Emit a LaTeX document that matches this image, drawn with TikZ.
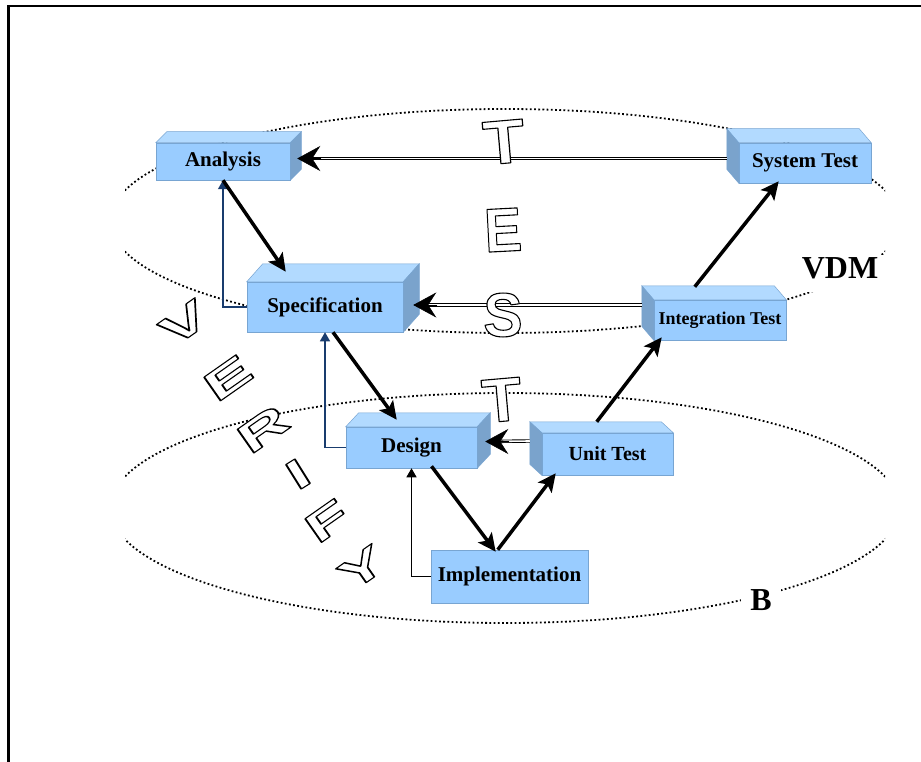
\documentclass[tikz,border=0pt]{standalone}
\usepackage{fontspec}
\setmainfont{Liberation Serif}
\newfontfamily\lsans{Liberation Sans}
\usetikzlibrary{arrows.meta,calc}

\definecolor{bxfront}{RGB}{153,204,255}
\definecolor{bxtop}{RGB}{178,218,255}
\definecolor{bxside}{RGB}{122,163,204}
\definecolor{bxedge}{RGB}{120,165,210}
\definecolor{navyln}{RGB}{25,60,110}

% outlined letter: white fill, black stroke (PDF text render mode 2)
\newcommand\outl[1]{\special{pdf:literal direct 1 g 0 G 2 Tr 1.1 w 1 j}#1\special{pdf:literal direct 0 Tr 0 g 0 G}}

\tikzset{
  boxface/.style={fill=bxfront, draw=bxedge, line width=0.5pt, inner sep=0pt,
    font=\fontsize{21}{24}\selectfont\bfseries},
  topface/.style={fill=bxtop, draw=bxedge, line width=0.5pt},
  sideface/.style={fill=bxside, draw=bxedge, line width=0.5pt},
  ell/.style={line width=1.8pt, dash pattern=on 1.8pt off 2.4pt},
  flowarrow/.style={line width=3.5pt, -{Stealth[length=18pt,width=17pt,inset=4pt]}},
  dblline/.style={double=white, draw=black, line width=0.9pt, double distance=1.6pt, shorten >=14pt},
  dblhead/.style={line width=0.5pt, -{Stealth[length=23pt,width=25pt,inset=8pt]}},
  fbarrow/.style={line width=1.3pt, -{Triangle[length=9pt,width=10pt]}},
  testletter/.style={inner sep=0pt, font=\lsans\bfseries\fontsize{62}{62}\selectfont},
  verletter/.style={inner sep=0pt, font=\lsans\bfseries\fontsize{42}{42}\selectfont},
  biglabel/.style={font=\fontsize{32}{34}\selectfont\bfseries, inner sep=0pt}
}

\newcommand\cubeR[3]{%
  \filldraw[topface] (#1.north west) -- ++(#2,-#3) -- ($(#1.north east)+(#2,-#3)$) -- (#1.north east) -- cycle;
  \filldraw[sideface] (#1.north east) -- ++(#2,-#3) -- ($(#1.south east)+(#2,-#3)$) -- (#1.south east) -- cycle;}
\newcommand\cubeL[3]{%
  \filldraw[topface] (#1.north east) -- ++(-#2,-#3) -- ($(#1.north west)+(-#2,-#3)$) -- (#1.north west) -- cycle;
  \filldraw[sideface] (#1.north west) -- ++(-#2,-#3) -- ($(#1.south west)+(-#2,-#3)$) -- (#1.south west) -- cycle;}

\begin{document}
\begin{tikzpicture}[x=1pt,y=-1pt]
\useasboundingbox (0,0) rectangle (921,762);
\fill[white] (0,0) rectangle (921,762);

% frame
\draw[line width=2.5pt] (8.5,762) -- (8.5,6) -- (921,6);

% ellipses
\begin{scope}
  \clip (125,0) rectangle (885,762);
  \draw[ell] (505,221) ellipse [x radius=395, y radius=112];
  \draw[ell] (505,508) ellipse [x radius=395, y radius=115];
\end{scope}

% boxes
\node[boxface, minimum width=134pt, minimum height=37pt] (ana) at (223,161.5) {Analysis};
\cubeR{ana}{11}{11}
\node[boxface, minimum width=156pt, minimum height=50pt] (spec) at (325,307) {Specification};
\cubeR{spec}{16}{18}
\node[boxface, minimum width=131pt, minimum height=41pt] (des) at (411.5,447.5) {Design};
\cubeR{des}{13}{14}
\node[boxface, minimum width=131pt, minimum height=42pt, font=\fontsize{20}{24}\selectfont\bfseries] (unit) at (607.5,454) {Unit Test};
\cubeL{unit}{12}{11}
\node[boxface, minimum width=157pt, minimum height=53pt] (impl) at (509.5,576.5) {Implementation};
\node[boxface, minimum width=132pt, minimum height=40pt] (sys) at (805,163) {System Test};
\cubeL{sys}{12}{14}
\node[boxface, minimum width=132pt, minimum height=40pt, font=\fontsize{18}{22}\selectfont\bfseries] (integ) at (720,320) {Integration Test};
\cubeL{integ}{12}{14}

% feedback arrows
\draw[fbarrow, navyln] (spec.west) -| (ana.south);
\draw[fbarrow, navyln] (des.west) -| (spec.south);
\draw[fbarrow, black] (impl.west) -| (des.south);

% double (test) arrows
\coordinate (t1) at ([shift={(7,-3)}]ana.east);
\coordinate (t2) at ([shift={(10,-2)}]spec.east);
\coordinate (t3) at ([shift={(8,-6)}]des.east);
\draw[dblline] ([shift={(-12,-4.5)}]sys.west) -- (t1);
\draw[dblhead] ([shift={(24,0)}]t1) -- (t1);
\draw[dblline] ([shift={(-12,-15)}]integ.west) -- (t2);
\draw[dblhead] ([shift={(24,0)}]t2) -- (t2);
\draw[dblline] ([shift={(-12,-13)}]unit.west) -- (t3);
\draw[dblhead] ([shift={(24,0)}]t3) -- (t3);

% main flow
\draw[flowarrow] (ana.south) -- ([shift={(39,-10)}]spec.north west);
\draw[flowarrow] ([shift={(8,0)}]spec.south) -- ([shift={(51,-7)}]des.north west);
\draw[flowarrow] ([shift={(20,-2)}]des.south) -- ([shift={(65,2)}]impl.north west);
\draw[flowarrow] ([shift={(67,0)}]impl.north west) -- ([shift={(14,-2)}]unit.south west);
\draw[flowarrow] ([shift={(55,-11)}]unit.north west) -- ([shift={(8,-3)}]integ.south west);
\draw[flowarrow] ([shift={(41,-13)}]integ.north west) -- ([shift={(40,-2)}]sys.south west);

% TEST letters
\node[testletter, rotate=5] (lt1) at (504,142) {\scalebox{1.1}[1]{\outl{T}}};
\node[testletter, rotate=3] (le1) at (503,230) {\scalebox{0.9}[1]{\outl{E}}};
\node[testletter] (ls1) at (503,315) {\scalebox{0.95}[1]{\outl{S}}};
\node[testletter, rotate=5] (lt2) at (502,400) {\scalebox{1.05}[1]{\outl{T}}};

% VERIFY letters
\node[verletter, rotate=35] (lv) at (184,323) {\scalebox{1.7}[1]{\outl{V}}};
\node[verletter, rotate=35] (le2) at (228,378) {\scalebox{1.7}[1]{\outl{E}}};
\node[verletter, rotate=35] (lr) at (263,429) {\scalebox{1.7}[1]{\outl{R}}};
\node[verletter, rotate=32] (li) at (298,474) {\scalebox{1.7}[1]{\outl{I}}};
\node[verletter, rotate=35] (lf) at (327,521) {\scalebox{1.65}[1]{\outl{F}}};
\node[verletter, rotate=35] (ly) at (362,568) {\scalebox{1.65}[1]{\outl{Y}}};

% method labels
\fill[white] (803,255) rectangle (888,292);
\node[biglabel] (vdm) at (840,268) {VDM};
\node[biglabel, fill=white, inner xsep=9pt, inner ysep=2pt] (bm) at (761,600) {B};
\end{tikzpicture}
\end{document}
